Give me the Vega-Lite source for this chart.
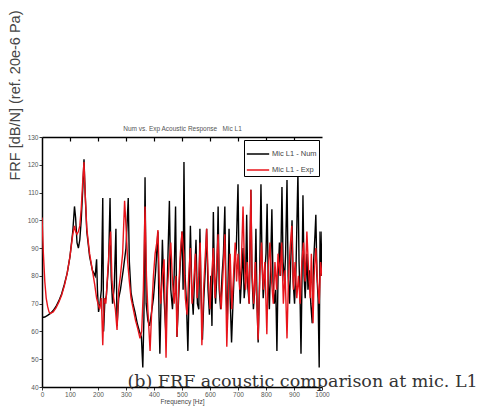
{
  "$schema": "https://vega.github.io/schema/vega-lite/v6.json",
  "autosize": {"type": "none"},
  "padding": {"left": 42, "top": 137, "right": 163, "bottom": 23},
  "width": 280,
  "height": 250,
  "background": "white",
  "config": {
    "view": {"stroke": null},
    "font": "Liberation Sans",
    "axis": {"grid": false, "domainColor": "#000", "domainWidth": 1.5, "tickColor": "#333", "labelColor": "#555", "labelFontSize": 6.5, "titleColor": "#444", "titleFontWeight": "normal", "labelOverlap": false},
    "legend": {"orient": "top-right", "offset": 3, "strokeColor": "#000", "strokeWidth": 1, "fillColor": "white", "padding": 2, "symbolType": "stroke", "symbolSize": 500, "symbolStrokeWidth": 1.5, "labelFontSize": 7.5, "labelColor": "#444", "rowPadding": -10, "labelOffset": 2}
  },
  "datasets": {
    "num": [
      {"f":0,"d":65},{"f":10,"d":65.2},{"f":20,"d":65.8},{"f":30,"d":66.5},{"f":40,"d":67.5},{"f":50,"d":69},{"f":60,"d":71},{"f":70,"d":73.5},{"f":80,"d":77},{"f":90,"d":81},{"f":100,"d":87},{"f":110,"d":96},{"f":116,"d":105},{"f":120,"d":101},{"f":125,"d":92},{"f":130,"d":90},{"f":135,"d":93},{"f":140,"d":100},{"f":146,"d":112},{"f":150,"d":122},{"f":154,"d":110},{"f":160,"d":96},{"f":170,"d":87},{"f":180,"d":82},{"f":190,"d":80},{"f":195,"d":86},{"f":198,"d":75},{"f":202,"d":67},{"f":207,"d":70},{"f":212,"d":75},{"f":217,"d":108},{"f":220,"d":60},{"f":224,"d":70},{"f":230,"d":73},{"f":238,"d":85},{"f":243,"d":108},{"f":247,"d":80},{"f":252,"d":70},{"f":258,"d":76},{"f":264,"d":97},{"f":268,"d":62},{"f":274,"d":72},{"f":280,"d":75},{"f":290,"d":82},{"f":300,"d":90},{"f":308,"d":108},{"f":312,"d":85},{"f":318,"d":74},{"f":325,"d":70},{"f":332,"d":67},{"f":340,"d":63},{"f":348,"d":60},{"f":355,"d":58},{"f":360,"d":47},{"f":364,"d":65},{"f":368,"d":115.5},{"f":372,"d":70},{"f":378,"d":64},{"f":384,"d":62},{"f":390,"d":66},{"f":398,"d":72},{"f":406,"d":82},{"f":414,"d":96},{"f":418,"d":65},{"f":421,"d":52},{"f":426,"d":75},{"f":430,"d":93},{"f":436,"d":72},{"f":442,"d":60},{"f":448,"d":80},{"f":455,"d":107},{"f":460,"d":75},{"f":466,"d":68},{"f":472,"d":80},{"f":477,"d":105},{"f":482,"d":58},{"f":488,"d":72},{"f":494,"d":85},{"f":500,"d":96},{"f":504,"d":75},{"f":507,"d":121},{"f":511,"d":80},{"f":516,"d":70},{"f":521,"d":53},{"f":526,"d":78},{"f":530,"d":98},{"f":535,"d":75},{"f":540,"d":66},{"f":545,"d":80},{"f":550,"d":93},{"f":555,"d":70},{"f":560,"d":68},{"f":564,"d":97},{"f":568,"d":74},{"f":573,"d":57},{"f":578,"d":72},{"f":583,"d":82},{"f":588,"d":97},{"f":593,"d":75},{"f":598,"d":66},{"f":603,"d":80},{"f":607,"d":62},{"f":612,"d":103},{"f":616,"d":78},{"f":620,"d":70},{"f":625,"d":82},{"f":629,"d":105},{"f":633,"d":75},{"f":638,"d":68},{"f":643,"d":80},{"f":648,"d":88},{"f":653,"d":105},{"f":657,"d":75},{"f":662,"d":64},{"f":668,"d":97},{"f":672,"d":72},{"f":677,"d":56},{"f":682,"d":70},{"f":688,"d":85},{"f":694,"d":90},{"f":700,"d":113},{"f":704,"d":82},{"f":708,"d":70},{"f":713,"d":80},{"f":718,"d":90},{"f":722,"d":72},{"f":727,"d":78},{"f":731,"d":102},{"f":735,"d":76},{"f":740,"d":70},{"f":746,"d":111},{"f":750,"d":80},{"f":755,"d":68},{"f":760,"d":75},{"f":764,"d":97},{"f":768,"d":70},{"f":772,"d":56},{"f":777,"d":78},{"f":782,"d":113},{"f":786,"d":85},{"f":790,"d":72},{"f":795,"d":80},{"f":800,"d":88},{"f":804,"d":106},{"f":808,"d":78},{"f":812,"d":68},{"f":816,"d":82},{"f":821,"d":104},{"f":825,"d":78},{"f":830,"d":70},{"f":835,"d":75},{"f":839,"d":53},{"f":843,"d":80},{"f":848,"d":92},{"f":852,"d":80},{"f":857,"d":112},{"f":861,"d":85},{"f":866,"d":78},{"f":870,"d":88},{"f":875,"d":114.5},{"f":879,"d":80},{"f":884,"d":70},{"f":888,"d":84},{"f":893,"d":100},{"f":897,"d":78},{"f":902,"d":70},{"f":907,"d":82},{"f":914,"d":117},{"f":918,"d":85},{"f":922,"d":70},{"f":925,"d":52},{"f":929,"d":82},{"f":932,"d":109},{"f":936,"d":80},{"f":940,"d":72},{"f":946,"d":88},{"f":950,"d":75},{"f":955,"d":82},{"f":960,"d":70},{"f":965,"d":63},{"f":970,"d":85},{"f":975,"d":95},{"f":978,"d":102},{"f":982,"d":80},{"f":986,"d":72},{"f":990,"d":47},{"f":993,"d":96},{"f":997,"d":80},{"f":1000,"d":96}
    ],
    "exp": [
      {"f":0,"d":101},{"f":5,"d":88},{"f":10,"d":78},{"f":15,"d":72},{"f":20,"d":69},{"f":25,"d":67},{"f":30,"d":66.5},{"f":40,"d":67},{"f":50,"d":68.5},{"f":60,"d":70.5},{"f":70,"d":73},{"f":80,"d":76.5},{"f":90,"d":81},{"f":100,"d":87},{"f":110,"d":95},{"f":116,"d":98},{"f":120,"d":96},{"f":125,"d":95},{"f":130,"d":96},{"f":135,"d":98},{"f":140,"d":104},{"f":146,"d":115},{"f":150,"d":121},{"f":154,"d":110},{"f":160,"d":97},{"f":170,"d":88},{"f":180,"d":82},{"f":188,"d":77},{"f":195,"d":72},{"f":200,"d":70},{"f":206,"d":68},{"f":212,"d":72},{"f":217,"d":55},{"f":222,"d":72},{"f":228,"d":70},{"f":234,"d":80},{"f":240,"d":90},{"f":245,"d":96},{"f":250,"d":78},{"f":256,"d":72},{"f":262,"d":68},{"f":268,"d":60.5},{"f":274,"d":75},{"f":280,"d":80},{"f":288,"d":88},{"f":295,"d":107},{"f":300,"d":98},{"f":306,"d":85},{"f":312,"d":78},{"f":318,"d":72},{"f":326,"d":68},{"f":334,"d":64},{"f":342,"d":61},{"f":350,"d":57.5},{"f":356,"d":60},{"f":362,"d":75},{"f":368,"d":105},{"f":373,"d":80},{"f":378,"d":68},{"f":386,"d":53},{"f":392,"d":68},{"f":398,"d":80},{"f":404,"d":88},{"f":410,"d":92},{"f":414,"d":96.5},{"f":419,"d":78},{"f":424,"d":70},{"f":430,"d":80},{"f":436,"d":86},{"f":443,"d":50.5},{"f":448,"d":75},{"f":454,"d":85},{"f":460,"d":92},{"f":466,"d":78},{"f":472,"d":70},{"f":478,"d":80},{"f":482,"d":58},{"f":488,"d":75},{"f":494,"d":88},{"f":500,"d":96},{"f":506,"d":88},{"f":512,"d":72},{"f":518,"d":66},{"f":524,"d":80},{"f":530,"d":90},{"f":536,"d":70},{"f":542,"d":78},{"f":548,"d":88},{"f":554,"d":72},{"f":560,"d":80},{"f":565,"d":92},{"f":571,"d":55},{"f":577,"d":75},{"f":582,"d":85},{"f":588,"d":97},{"f":594,"d":78},{"f":600,"d":68},{"f":606,"d":80},{"f":612,"d":90},{"f":618,"d":72},{"f":624,"d":85},{"f":629,"d":95},{"f":634,"d":76},{"f":640,"d":68},{"f":646,"d":80},{"f":653,"d":95},{"f":660,"d":54.5},{"f":666,"d":75},{"f":672,"d":88},{"f":678,"d":68},{"f":684,"d":80},{"f":690,"d":92},{"f":695,"d":78},{"f":700,"d":88},{"f":706,"d":75},{"f":712,"d":85},{"f":718,"d":105},{"f":722,"d":88},{"f":727,"d":75},{"f":733,"d":85},{"f":740,"d":70},{"f":746,"d":111},{"f":750,"d":82},{"f":756,"d":70},{"f":762,"d":85},{"f":767,"d":72},{"f":772,"d":57},{"f":778,"d":80},{"f":784,"d":92},{"f":790,"d":75},{"f":796,"d":85},{"f":803,"d":59},{"f":808,"d":82},{"f":814,"d":92},{"f":820,"d":78},{"f":826,"d":70},{"f":832,"d":85},{"f":838,"d":75},{"f":843,"d":88},{"f":850,"d":80},{"f":856,"d":92},{"f":862,"d":70},{"f":868,"d":82},{"f":875,"d":57.5},{"f":880,"d":78},{"f":886,"d":90},{"f":892,"d":98},{"f":898,"d":75},{"f":904,"d":85},{"f":910,"d":72},{"f":916,"d":80},{"f":922,"d":70},{"f":928,"d":85},{"f":934,"d":92},{"f":940,"d":78},{"f":946,"d":96},{"f":952,"d":82},{"f":958,"d":72},{"f":962,"d":88},{"f":968,"d":63},{"f":972,"d":80},{"f":978,"d":90},{"f":984,"d":78},{"f":990,"d":70},{"f":995,"d":85},{"f":1000,"d":80}
    ],
    "caption": [{"f": 305, "d": 40, "t": "(b) FRF acoustic comparison at mic. L1"}]
  },
  "resolve": {"axis": {"x": "independent"}},
  "layer": [
    {
      "data": {"name": "num"},
      "mark": {"type": "line", "strokeWidth": 1.4, "clip": true},
      "encoding": {
        "x": {"field": "f", "type": "quantitative", "scale": {"domain": [0, 1000], "nice": false}, "axis": {"values": [0,100,200,300,400,500,600,700,800,900,1000], "format": "d", "title": "Frequency [Hz]", "titleFontSize": 6.5, "titlePadding": 1, "tickSize": 3, "labelPadding": 1, "labelFlush": false}},
        "y": {"field": "d", "type": "quantitative", "scale": {"domain": [40, 130], "nice": false}, "axis": {"values": [40,50,60,70,80,90,100,110,120,130], "labelOverlap": false, "title": "FRF [dB/N] (ref. 20e-6 Pa)", "titleFontSize": 14.5, "titleX": -27, "titleY": -42, "titleAlign": "center", "titleBaseline": "middle", "tickSize": 3, "labelPadding": 1}},
        "color": {"datum": "Mic L1 - Num", "type": "nominal", "scale": {"domain": ["Mic L1 - Num", "Mic L1 - Exp"], "range": ["#000000", "#e8141b"]}, "legend": {"title": null}}
      }
    },
    {
      "data": {"name": "exp"},
      "mark": {"type": "line", "strokeWidth": 1.4, "clip": true},
      "encoding": {
        "x": {"field": "f", "type": "quantitative", "scale": {"domain": [0, 1000], "nice": false}, "axis": {"orient": "top", "values": [100,200,300,400,500,600,700,800,900], "labels": false, "title": "Num vs. Exp Acoustic Response \u00a0\u00a0Mic L1", "titleFontSize": 6.5, "titleColor": "#555", "titlePadding": 5, "tickSize": -4, "tickColor": "#000", "tickWidth": 1.2}},
        "y": {"field": "d", "type": "quantitative", "axis": {"values": [40,50,60,70,80,90,100,110,120,130], "labelOverlap": false, "title": "FRF [dB/N] (ref. 20e-6 Pa)"}},
        "color": {"datum": "Mic L1 - Exp", "type": "nominal"}
      }
    },
    {
      "data": {"name": "caption"},
      "mark": {"type": "text", "font": "DejaVu Serif", "fontSize": 17.5, "align": "left", "baseline": "alphabetic", "color": "#333"},
      "encoding": {
        "x": {"field": "f", "type": "quantitative", "scale": {"domain": [0, 1000], "nice": false}, "axis": null},
        "y": {"field": "d", "type": "quantitative", "axis": {"values": [40,50,60,70,80,90,100,110,120,130], "labelOverlap": false, "title": "FRF [dB/N] (ref. 20e-6 Pa)"}},
        "text": {"field": "t"}
      }
    }
  ]
}
